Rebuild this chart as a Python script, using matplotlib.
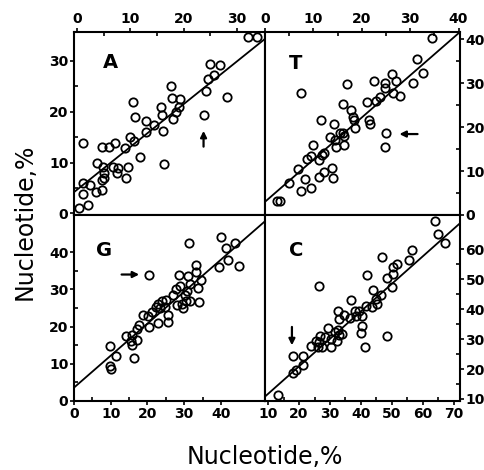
import numpy as np
import matplotlib
matplotlib.use('Agg')
import matplotlib.pyplot as plt

# panel A
a_x = [32.1, 33.75, 25.0, 26.9, 25.8, 24.6, 24.25, 28.2, 17.7, 17.9, 19.4, 19.1, 18.6, 18.0,
       15.8, 15.9, 16.1, 16.25, 23.75, 10.5, 10.9, 13.0, 14.4, 13.0, 9.9, 10.6, 8.9, 7.1, 5.9,
       4.7, 1.1, 11.75, 3.8, 4.9, 6.75, 7.7, 7.4, 9.6, 9.25, 5.1, 5.1, 4.75, 4.6, 3.5, 2.5, 1.0,
       1.1, 2.1, 0.4]
a_y = [34.8, 34.8, 29.4, 29.2, 27.2, 26.4, 24.0, 23.0, 25.1, 22.7, 22.5, 21.0, 20.0, 18.5,
       20.9, 19.4, 16.3, 9.65, 19.4, 22.0, 19.0, 18.25, 17.5, 16.1, 15.0, 14.3, 12.8, 13.9, 13.1,
       13.0, 13.8, 11.2, 10.0, 9.2, 9.2, 8.9, 8.0, 9.2, 7.0, 7.9, 6.9, 6.6, 4.7, 4.3, 5.6, 6.0,
       3.9, 1.6, 1.0]

# panel T
t_x = [34.5, 31.4, 32.6, 30.5, 26.2, 27.0, 24.8, 24.7, 26.4, 27.9, 22.6, 23.8, 23.0, 21.0,
       16.9, 16.1, 17.8, 18.1, 18.3, 18.5, 21.4, 21.6, 11.6, 14.3, 7.45, 16.2, 15.5, 16.4, 13.4,
       14.5, 16.4, 14.7, 9.9, 25.0, 24.9, 12.2, 11.7, 9.5, 8.6, 11.2, 6.8, 13.8, 12.2, 11.2, 14.1,
       8.3, 5.0, 9.45, 7.45, 2.4, 3.1]
t_y = [40.3, 35.4, 32.2, 29.9, 32.0, 30.5, 29.9, 28.8, 27.8, 27.1, 30.5, 26.9, 26.0, 25.6,
       29.7, 25.2, 23.9, 22.3, 21.6, 19.7, 21.6, 20.6, 21.6, 20.7, 27.8, 18.7, 18.6, 18.0, 17.8,
       17.0, 15.9, 15.4, 15.9, 18.6, 15.4, 14.2, 13.6, 13.3, 12.7, 12.5, 10.5, 10.6, 9.7, 8.7, 8.3,
       8.1, 7.3, 6.1, 5.5, 3.2, 3.2]

# panel G
g_x = [31.35, 39.9, 43.7, 41.4, 41.9, 39.6, 44.9, 20.4, 28.6, 31.1, 33.3, 33.3, 34.7, 33.8,
       31.5, 30.9, 30.2, 28.8, 27.7, 27.0, 30.6, 31.5, 34.0, 29.5, 28.1, 29.7, 25.0, 23.9, 22.8,
       22.3, 23.4, 24.9, 25.7, 25.5, 21.2, 18.9, 20.1, 23.0, 20.5, 17.6, 17.1, 14.1, 15.8, 15.6,
       17.1, 15.9, 16.2, 9.9, 11.3, 9.9, 10.1]
g_y = [42.5, 44.1, 42.5, 41.2, 37.8, 36.0, 36.3, 34.0, 33.8, 33.6, 36.5, 34.7, 32.4, 30.4,
       31.5, 29.5, 28.4, 30.8, 30.2, 28.4, 27.0, 27.0, 26.6, 26.1, 25.9, 25.0, 27.2, 26.8, 26.1,
       25.4, 25.0, 25.4, 23.0, 21.2, 23.9, 23.0, 22.8, 20.9, 20.0, 20.5, 19.4, 17.4, 17.8, 16.2,
       16.5, 15.1, 11.5, 14.7, 12.0, 9.3, 8.7]

# panel C
c_x = [63.9, 64.9, 67.3, 56.5, 55.6, 46.8, 51.6, 50.3, 50.3, 48.4, 42.0, 50.0, 44.0, 46.4,
       44.8, 45.3, 43.6, 41.6, 36.7, 39.4, 38.1, 40.2, 38.4, 36.5, 32.6, 34.4, 32.8, 26.6, 40.2,
       40.0, 41.3, 48.5, 33.8, 32.6, 31.7, 33.0, 32.2, 29.4, 28.3, 30.4, 26.7, 26.4, 27.4, 25.5,
       30.4, 26.2, 23.9, 17.9, 21.4, 21.4, 18.9, 17.9, 13.1]
c_y = [69.5, 65.3, 62.0, 59.8, 56.3, 57.4, 55.2, 54.1, 51.9, 50.5, 51.6, 47.5, 46.4, 44.6,
       43.4, 41.9, 40.6, 41.0, 43.2, 39.5, 39.3, 37.6, 37.6, 37.1, 39.3, 38.2, 36.8, 47.9, 34.5,
       32.0, 27.2, 30.9, 31.8, 33.2, 32.4, 31.5, 29.2, 33.7, 30.7, 30.0, 30.9, 28.9, 27.3, 29.2,
       27.3, 27.3, 27.6, 24.4, 24.5, 21.4, 19.5, 18.8, 11.3]

# regression lines (intercept, slope)
a_fit = (4.7, 0.84)
t_fit = (3.0, 0.958)
g_fit = (3.6, 0.86)
c_fit = (2.5, 0.92)

# arrows (tail, head)
a_arrow = ((23.75, 12.6), (23.75, 16.8))
t_arrow = ((32.1, 18.4), (27.2, 18.4))
g_arrow = ((12.2, 34.0), (18.5, 34.0))
c_arrow = ((17.7, 35.0), (17.7, 27.0))

plt.rcParams['font.family'] = 'DejaVu Sans'
plt.rcParams['font.weight'] = 'bold'

fig = plt.figure(figsize=(4.85, 4.7), dpi=100)
L, M, R = 74 / 485, 265 / 485, 460 / 485
TOP, MID, BOT = 1 - 32 / 470, 1 - 215 / 470, 1 - 401 / 470
boxes = {
    'A': [L, MID, M - L, TOP - MID],
    'T': [M, MID, R - M, TOP - MID],
    'G': [L, BOT, M - L, MID - BOT],
    'C': [M, BOT, R - M, MID - BOT],
}

ax_a = fig.add_axes(boxes['A'])
ax_t = fig.add_axes(boxes['T'])
ax_g = fig.add_axes(boxes['G'])
ax_c = fig.add_axes(boxes['C'])


def panel(ax, x, y, arrow, letter, xlim, ylim, xt, yt, xpos, ypos, lpos):
    ax.plot(x, y, 'o', mfc='none', mec='black', ms=6, mew=1.3, zorder=3)
    ax.annotate('', xy=arrow[1], xytext=arrow[0],
                arrowprops=dict(arrowstyle='-|>', color='black', lw=1.6, mutation_scale=9))
    ax.text(lpos[0], lpos[1], letter, transform=ax.transAxes, fontsize=14,
            fontweight='bold', ha='center', va='center')
    ax.set_xticks(xt)
    ax.set_yticks(yt)
    ax.set_xticks(np.array(xt[:-1]) + 5, minor=True)
    ax.set_yticks(np.array(yt[:-1]) + 5, minor=True)
    ax.set_xlim(xlim)
    ax.set_ylim(ylim)
    if xpos == 'top':
        ax.xaxis.tick_top()
    else:
        ax.xaxis.tick_bottom()
    if ypos == 'right':
        ax.yaxis.tick_right()
    else:
        ax.yaxis.tick_left()
    ax.tick_params(which='major', direction='out', length=3, width=1.2,
                   labelsize=10, pad=1)
    ax.tick_params(which='minor', direction='in', length=3, width=1.2)
    for s in ax.spines.values():
        s.set_linewidth(1.5)


def fit_line(key, fit, xlim, ylim):
    # separate see-through axes on top, same scales as the panel
    ov = fig.add_axes(boxes[key], label='fit_' + key)
    ov.patch.set_visible(False)
    ov.axis('off')
    ov.set_xlim(xlim)
    ov.set_ylim(ylim)
    x0, x1 = xlim
    ov.plot([x0, x1], [fit[0] + fit[1] * x0, fit[0] + fit[1] * x1],
            color='black', lw=1.3, solid_capstyle='butt')
    ov.set_xlim(xlim)
    ov.set_ylim(ylim)


panel(ax_a, a_x, a_y, a_arrow, 'A', (-0.6, 35.3), (-0.3, 35.7),
      [0, 10, 20, 30], [0, 10, 20, 30], 'top', 'left', (0.19, 0.835))
panel(ax_t, t_x, t_y, t_arrow, 'T', (0, 40.3), (0, 41.6),
      [0, 10, 20, 30, 40], [0, 10, 20, 30, 40], 'top', 'right', (0.155, 0.83))
panel(ax_g, g_x, g_y, g_arrow, 'G', (0, 52), (0, 50),
      [0, 10, 20, 30, 40], [0, 10, 20, 30, 40], 'bottom', 'left', (0.16, 0.81))
panel(ax_c, c_x, c_y, c_arrow, 'C', (9, 72), (9.3, 71.5),
      [10, 20, 30, 40, 50, 60, 70], [10, 20, 30, 40, 50, 60], 'bottom', 'right', (0.16, 0.81))

fit_line('A', a_fit, (-0.6, 35.3), (-0.3, 35.7))
fit_line('T', t_fit, (0, 40.3), (0, 41.6))
fit_line('G', g_fit, (0, 52), (0, 50))
fit_line('C', c_fit, (9, 72), (9.3, 71.5))

fig.text(25 / 485, 1 - 222 / 470, 'Nucleotide,%', rotation=90, ha='center', va='center',
         fontsize=17, fontweight='normal')
fig.text(265 / 485, 1 - 457 / 470, 'Nucleotide,%', ha='center', va='center',
         fontsize=17, fontweight='normal')

fig.savefig('out.png', dpi=100, facecolor='white')
